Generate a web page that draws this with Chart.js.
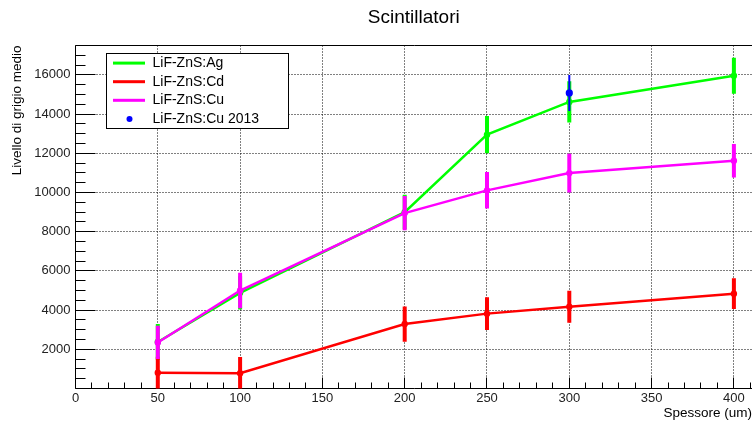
<!DOCTYPE html>
<html>
<head>
<meta charset="utf-8">
<title>Scintillatori</title>
<script src="https://cdn.jsdelivr.net/npm/chart.js@4.4.1/dist/chart.umd.min.js"></script>
<style>
  html, body { margin: 0; padding: 0; background: #fff; overflow: hidden; }
  canvas { display: block; }
</style>
</head>
<body>
<canvas id="chart" width="752" height="425"></canvas>
<script>
// Thickness of each scintillator sample (um)
const thickness = [50, 100, 200, 250, 300, 400];

// Mean grey level and its uncertainty for each screen
const agValues = [2370, 4880, 9000, 12950, 14620, 15960];
const agErrors = [920, 850, 880, 950, 1050, 920];

const cdValues = [800, 775, 3290, 3820, 4175, 4840];
const cdErrors = [820, 830, 900, 830, 815, 790];

const cuValues = [2350, 5000, 8950, 10110, 10990, 11620];
const cuErrors = [850, 900, 870, 930, 990, 850];

// Single 2013 reference measurement
const cu2013Thickness = [300];
const cu2013Values = [15080];
const cu2013Errors = [920];

// Axis ticks
const xMajorTicks = [0, 50, 100, 150, 200, 250, 300, 350, 400];
const xMinorStep = 10;
const yMajorTicks = [0, 2000, 4000, 6000, 8000, 10000, 12000, 14000, 16000];
const yMinorStep = 500;

const X_MAX = 411;
const Y_MAX = 17500;

const FONT = '"Liberation Sans", Arial, Helvetica, sans-serif';

const points = (xs, ys) => xs.map((x, i) => ({ x, y: ys[i] }));

// Vertical error bars, drawn just before each dataset so its line and markers sit on top
const errorBars = {
  id: 'errorBars',
  beforeDatasetDraw(chart, args) {
    const ds = chart.data.datasets[args.index];
    if (!ds.errors) return;
    const { ctx, chartArea: a, scales: { x, y } } = chart;
    ctx.save();
    ctx.beginPath();
    ctx.rect(a.left, a.top, a.right - a.left, a.bottom - a.top);
    ctx.clip();
    ctx.strokeStyle = ds.borderColor;
    ctx.lineWidth = ds.errorWidth;
    ctx.lineCap = 'butt';
    ds.data.forEach((p, i) => {
      const px = x.getPixelForValue(p.x);
      ctx.beginPath();
      ctx.moveTo(px, y.getPixelForValue(p.y - ds.errors[i]));
      ctx.lineTo(px, y.getPixelForValue(p.y + ds.errors[i]));
      ctx.stroke();
    });
    ctx.restore();
  }
};

// Frame, dotted grid and inward tick marks
const frame = {
  id: 'frame',
  beforeDatasetsDraw(chart) {
    const { ctx, chartArea: a, scales: { x, y } } = chart;
    const snap = v => Math.round(v - 0.5) + 0.5;
    ctx.save();
    // grid
    ctx.strokeStyle = '#000';
    ctx.lineWidth = 1;
    ctx.setLineDash([1, 2]);
    xMajorTicks.forEach(v => {
      if (v === 0) return;
      const px = snap(x.getPixelForValue(v));
      ctx.beginPath(); ctx.moveTo(px, a.top); ctx.lineTo(px, a.bottom); ctx.stroke();
    });
    yMajorTicks.forEach(v => {
      if (v === 0) return;
      const py = snap(y.getPixelForValue(v));
      ctx.beginPath(); ctx.moveTo(a.left, py); ctx.lineTo(a.right, py); ctx.stroke();
    });
    ctx.setLineDash([]);
    // frame lines
    ctx.beginPath();
    ctx.moveTo(a.right + 1, a.top); ctx.lineTo(a.left, a.top);
    ctx.lineTo(a.left, a.bottom); ctx.lineTo(a.right + 1, a.bottom);
    ctx.stroke();
    // x ticks
    for (let v = 0; v <= X_MAX; v += xMinorStep) {
      const px = snap(x.getPixelForValue(v));
      const len = xMajorTicks.includes(v) ? 11 : 6;
      ctx.beginPath(); ctx.moveTo(px, a.bottom); ctx.lineTo(px, a.bottom - len); ctx.stroke();
    }
    // y ticks
    for (let v = 0; v <= Y_MAX; v += yMinorStep) {
      const py = snap(y.getPixelForValue(v));
      const len = yMajorTicks.includes(v) ? 20 : 10;
      ctx.beginPath(); ctx.moveTo(a.left, py); ctx.lineTo(a.left + len, py); ctx.stroke();
    }
    ctx.restore();
  }
};

// Title, axis titles and legend box
const annotations = {
  id: 'annotations',
  afterDraw(chart) {
    const { ctx, chartArea: a } = chart;
    ctx.save();
    ctx.fillStyle = '#000';
    // title
    ctx.font = '19px ' + FONT;
    ctx.textAlign = 'center';
    ctx.textBaseline = 'middle';
    ctx.fillText('Scintillatori', (a.left + a.right) / 2, 18);
    // x axis title
    ctx.font = '13.5px ' + FONT;
    ctx.textAlign = 'right';
    ctx.fillText('Spessore (um)', 752, 413);
    // y axis title
    ctx.save();
    ctx.translate(17.5, a.top);
    ctx.rotate(-Math.PI / 2);
    ctx.font = '13.5px ' + FONT;
    ctx.textAlign = 'right';
    ctx.textBaseline = 'middle';
    ctx.fillText('Livello di grigio medio', 0, 0);
    ctx.restore();

    // legend
    const box = { left: 106.5, top: 53.5, width: 182, height: 75 };
    ctx.fillStyle = '#fff';
    ctx.fillRect(box.left, box.top, box.width, box.height);
    ctx.strokeStyle = '#000';
    ctx.lineWidth = 1;
    ctx.strokeRect(box.left, box.top, box.width, box.height);
    ctx.font = '14px ' + FONT;
    ctx.textAlign = 'left';
    ctx.textBaseline = 'middle';
    const rowH = 18.6;
    chart.data.datasets.forEach((ds, k) => {
      const cy = box.top + 9.6 + k * rowH;
      if (ds.showLine === false) {
        ctx.fillStyle = ds.pointBackgroundColor;
        ctx.beginPath(); ctx.arc(129.5, cy, 3, 0, Math.PI * 2); ctx.fill();
      } else {
        ctx.strokeStyle = ds.borderColor;
        ctx.lineWidth = 3;
        ctx.beginPath(); ctx.moveTo(113, cy); ctx.lineTo(145, cy); ctx.stroke();
      }
      ctx.fillStyle = '#000';
      ctx.fillText(ds.label, 152.5, cy);
    });
    ctx.restore();
  }
};

const lineDataset = (label, color, xs, ys, errs, order) => ({
  label,
  data: points(xs, ys),
  errors: errs,
  errorWidth: 4,
  borderColor: color,
  backgroundColor: color,
  pointBackgroundColor: color,
  pointBorderWidth: 0,
  pointRadius: 3.2,
  borderWidth: 2.5,
  tension: 0,
  fill: false,
  order
});

new Chart(document.getElementById('chart'), {
  type: 'line',
  data: {
    datasets: [
      lineDataset('LiF-ZnS:Ag', '#00ff00', thickness, agValues, agErrors, 3),
      lineDataset('LiF-ZnS:Cd', '#ff0000', thickness, cdValues, cdErrors, 2),
      lineDataset('LiF-ZnS:Cu', '#ff00ff', thickness, cuValues, cuErrors, 1),
      {
        label: 'LiF-ZnS:Cu 2013',
        data: points(cu2013Thickness, cu2013Values),
        errors: cu2013Errors,
        errorWidth: 2,
        showLine: false,
        borderColor: '#0000ff',
        backgroundColor: '#0000ff',
        pointBackgroundColor: '#0000ff',
        pointBorderWidth: 0,
        pointRadius: 3.6,
        order: 0
      }
    ]
  },
  options: {
    responsive: false,
    animation: false,
    layout: { autoPadding: false, padding: { top: 45.5, left: 0, right: 0, bottom: 0 } },
    plugins: {
      legend: { display: false },
      title: { display: false },
      tooltip: { enabled: false }
    },
    scales: {
      x: {
        type: 'linear',
        min: 0,
        max: X_MAX,
        afterBuildTicks: s => { s.ticks = xMajorTicks.map(v => ({ value: v })); },
        afterFit: s => { s.height = 36.5; },
        grid: { display: false, drawTicks: false },
        border: { display: false },
        ticks: {
          padding: 2,
          maxRotation: 0,
          autoSkip: false,
          color: '#222',
          font: { family: FONT, size: 13 }
        }
      },
      y: {
        type: 'linear',
        min: 0,
        max: Y_MAX,
        afterBuildTicks: s => { s.ticks = yMajorTicks.map(v => ({ value: v })); },
        afterFit: s => { s.width = 75.5; },
        grid: { display: false, drawTicks: false },
        border: { display: false },
        ticks: {
          padding: 5,
          autoSkip: false,
          color: '#222',
          font: { family: FONT, size: 13 },
          callback: v => (v === 0 ? '' : String(v))
        }
      }
    }
  },
  plugins: [frame, errorBars, annotations]
});
</script>
</body>
</html>
